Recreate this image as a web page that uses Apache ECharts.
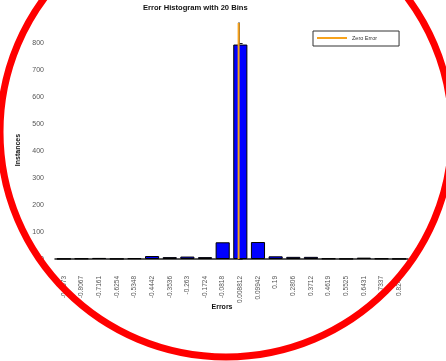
<!DOCTYPE html>
<html>
<head>
<meta charset="utf-8">
<script src="https://cdn.jsdelivr.net/npm/echarts@6/dist/echarts.min.js"></script>
<style>
  html, body { margin: 0; padding: 0; background: #fff; }
  #chart { width: 446px; height: 361px; }
</style>
</head>
<body>
<div id="chart"></div>
<script>
// Bin centres of the error histogram (20 bins)
const binCenters = ['-0.8973', '-0.8067', '-0.7161', '-0.6254', '-0.5348', '-0.4442', '-0.3536',
  '-0.263', '-0.1724', '-0.0818', '0.008812', '0.09942', '0.19', '0.2806', '0.3712', '0.4619',
  '0.5525', '0.6431', '0.7337', '0.8243'];
// Number of instances falling in each bin
const instances = [1, 2, 4, 1, 3, 11, 7, 9, 7, 62, 796, 63, 10, 8, 8, 2, 1, 5, 2, 1];
// Y axis tick values
const yTickValues = [0, 100, 200, 300, 400, 500, 600, 700, 800];
const yMax = 876;
// Zero-error reference line (error, instances)
const zeroErrorLine = [[0, 0], [0, yMax]];

// Continuous error scale spanning the outer bin edges
const firstCenter = parseFloat(binCenters[0]);
const lastCenter = parseFloat(binCenters[binCenters.length - 1]);
const halfBin = (lastCenter - firstCenter) / (binCenters.length - 1) / 2;

const FONT = '"Liberation Sans", Arial, Helvetica, sans-serif';
const chart = echarts.init(document.getElementById('chart'), null, { renderer: 'canvas' });

chart.setOption({
  animation: false,
  backgroundColor: '#ffffff',
  textStyle: { fontFamily: FONT },
  title: {
    text: 'Error Histogram with 20 Bins',
    left: 143,
    top: 4,
    padding: 0,
    textStyle: { fontFamily: FONT, fontSize: 7.6, fontWeight: 'bold', color: '#111' }
  },
  legend: {
    data: ['Zero Error'],
    left: 313,
    top: 31,
    padding: [4, 22, 5, 4],
    borderColor: '#333',
    borderWidth: 1,
    icon: 'rect',
    itemWidth: 30,
    itemHeight: 2,
    itemGap: 0,
    selectedMode: false,
    textStyle: { fontFamily: FONT, fontSize: 5.5, color: '#333' }
  },
  grid: { left: 55, right: 38, top: 23, bottom: 102, outerBoundsMode: 'none' },
  xAxis: [
    {
      type: 'category',
      data: binCenters,
      axisLine: { lineStyle: { color: '#222', width: 1.5 } },
      axisTick: { inside: true, alignWithLabel: true, length: 4, lineStyle: { color: '#222' } },
      axisLabel: { interval: 0, rotate: 90, margin: 17, fontSize: 6.5, color: '#555', fontFamily: FONT },
      splitLine: { show: false }
    },
    {
      type: 'value',
      min: firstCenter - halfBin,
      max: lastCenter + halfBin,
      show: false,
      splitLine: { show: false }
    }
  ],
  yAxis: {
    type: 'value',
    min: 0,
    max: yMax,
    axisLine: { show: true, lineStyle: { color: '#222', width: 1.5 } },
    axisTick: { show: true, inside: true, length: 4, customValues: yTickValues, lineStyle: { color: '#222' } },
    axisLabel: { customValues: yTickValues, fontSize: 7, color: '#555', margin: 11, padding: [0, 0, 5, 0], fontFamily: FONT },
    splitLine: { show: false }
  },
  series: [
    {
      type: 'bar',
      data: instances,
      barCategoryGap: '20%',
      itemStyle: { color: '#0000ff', borderColor: '#000', borderWidth: 1 }
    },
    {
      name: 'Zero Error',
      type: 'line',
      xAxisIndex: 1,
      data: zeroErrorLine,
      symbol: 'none',
      z: 5,
      lineStyle: { color: '#f7a21b', width: 2 },
      itemStyle: { color: '#f7a21b' }
    }
  ],
  graphic: [
    {
      type: 'text', x: 222, y: 307,
      style: { text: 'Errors', fontFamily: FONT, fontSize: 7, fontWeight: 'bold', fill: '#111', align: 'center', verticalAlign: 'middle' }
    },
    {
      type: 'text', x: 18, y: 150, rotation: Math.PI / 2,
      style: { text: 'Instances', fontFamily: FONT, fontSize: 7, fontWeight: 'bold', fill: '#111', align: 'center', verticalAlign: 'middle' }
    },
    {
      // hand-drawn style red ring around the plot
      type: 'ellipse', silent: true, z: 100,
      shape: { cx: 226, cy: 132, rx: 226, ry: 225 },
      style: { fill: 'none', stroke: '#ff0000', lineWidth: 7 }
    }
  ]
});
</script>
</body>
</html>
